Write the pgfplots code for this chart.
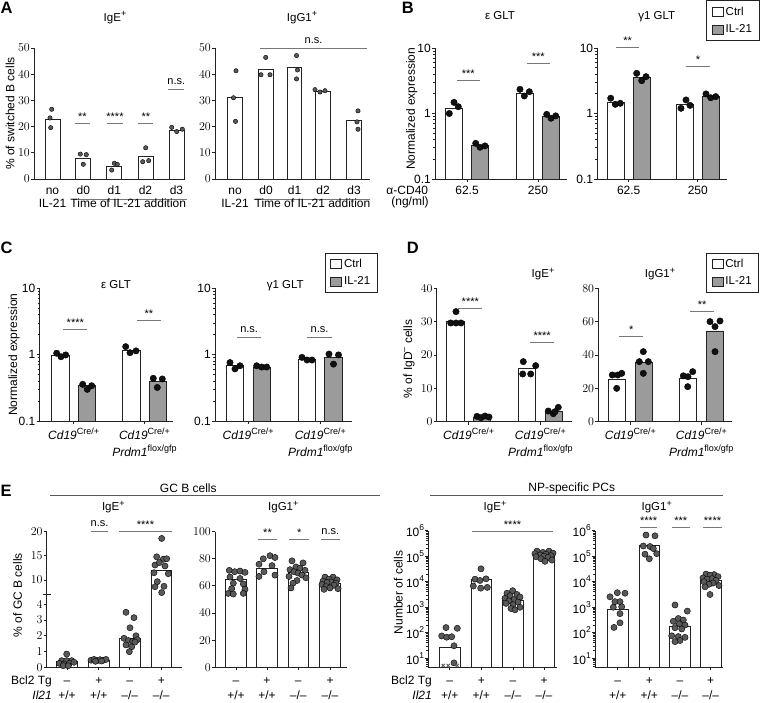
\documentclass[border=0pt]{standalone}
\usepackage{fontspec}
\setmainfont{Liberation Sans}
\usepackage{pgfplots}
\pgfplotsset{compat=1.18}
\definecolor{axc}{HTML}{222222}
\definecolor{barg}{HTML}{9B9B9B}
\definecolor{ptg}{HTML}{595959}
\definecolor{ptk}{HTML}{111111}
\definecolor{sigc}{HTML}{777777}
\newcommand\fa{\fontsize{12}{14}\selectfont}
\newcommand\ft{\fontsize{11.5}{13}\selectfont}
\newcommand\fsg{\fontsize{11}{13}\selectfont}
\newcommand\fl{\fontsize{11.5}{13}\selectfont}
\newcommand\fL{\fontsize{16.5}{19}\selectfont\bfseries}
\newcommand\sps[1]{\raisebox{0.42em}{\fontsize{9}{9}\selectfont #1}}
\newcommand\lsp[1]{\raisebox{0.5em}{\fontsize{8.5}{8.5}\selectfont #1}}
\newcommand\tabT[2][1]{{\renewcommand{\arraystretch}{#1}\begin{tabular}[t]{@{}c@{}}#2\end{tabular}}}
\newcommand\sigA[4]{\draw[sigc,line width=0.9pt] (#1,#3)--(#2,#3); \node[font=\fsg,anchor=base,inner sep=0pt] at ({(#1+#2)/2},{#3-2.8}) {#4};}
\newcommand\sigN[3]{\draw[sigc,line width=0.9pt] (#1,#3)--(#2,#3); \node[font=\fsg,anchor=base,inner sep=0pt] at ({(#1+#2)/2},{#3-5}) {n.s.};}
\pgfplotsset{
  pbase/.style={scale only axis, anchor=south west, axis lines*=left,
    axis line style={-, line width=0.9pt, draw=axc},
    every tick/.style={line width=0.9pt, draw=axc},
    major tick length=3pt, minor tick length=2pt, tick align=outside,
    tick label style={font=\fa, inner sep=1pt, text=black},
    xticklabel style={anchor=base},
    ylabel style={font=\fa},
    clip=false},
  tkB/.style={ymin=0.1, ymax=10, ytick={0.1,1,10}, yticklabels={0.1,1,10},
    minor ytick={0.2,0.3,0.4,0.5,0.6,0.7,0.8,0.9,2,3,4,5,6,7,8,9}},
  tkN/.style={ymin=4.44, ymax=1000000, ytick={10,100,1000,10000,100000,1000000},
    yticklabels={10\lsp{1},10\lsp{2},10\lsp{3},10\lsp{4},10\lsp{5},10\lsp{6}},
    minor ytick={5,6,7,8,9,20,30,40,50,60,70,80,90,200,300,400,500,600,700,800,900,2000,3000,4000,5000,6000,7000,8000,9000,20000,30000,40000,50000,60000,70000,80000,90000,200000,300000,400000,500000,600000,700000,800000,900000}},
  cbar/.style={ybar, bar width=#1, bar shift=0pt, fill=white, draw=axc, line width=0.9pt,
    legend image code/.code={\draw[##1] (0pt,-4.5pt) rectangle (11pt,4.5pt);}},
  gbar/.style={ybar, bar width=#1, bar shift=0pt, fill=barg, draw=axc, line width=0.9pt,
    legend image code/.code={\draw[##1] (0pt,-4.5pt) rectangle (11pt,4.5pt);}},
  pts/.style={only marks, mark=*, mark size=#1, mark options={draw=none, fill=ptg}, forget plot},
  ptk/.style={only marks, mark=*, mark size=#1, mark options={draw=none, fill=ptk}, forget plot},
  xm/.style={only marks, mark=x, mark size=2.3, mark options={draw=ptg, line width=0.9pt}, forget plot},
  lgs/.style 2 args={legend style={at={(#1,#2)}, anchor=north east, draw=axc, line width=0.8pt, font=\fl, inner xsep=5pt, inner ysep=4pt, row sep=4pt}, legend cell align=left},
}
\begin{document}
\begin{tikzpicture}
\path[use as bounding box] (0,0) rectangle (760pt,703pt);
% ---------------- A left
\begin{axis}[pbase, at={(34pt,524pt)}, width=151pt, height=131pt, xmin=34, xmax=185, ymin=0, ymax=50,
  ytick={0,10,20,30,40,50}, xtick={52.5,83.3,114.3,145.5,176.5},
  xticklabels={{\tabT[0.9]{no\\IL-21}},d0,d1,d2,d3}, major x tick style={draw=none}, xticklabel style={yshift=-13pt},
  ylabel={\% of switched B cells}, ylabel style={at={(axis description cs:-0.159,0.5)}, anchor=center}]
\addplot[cbar=15] coordinates {(52.5,22.7) (83.3,8) (114.3,4.7) (145.5,8.5) (176.5,18.5)};
\addplot[pts=2.2] coordinates {(51.7,26.6) (50,23.3) (50.7,19.6) (80.3,9.5) (86.3,9.3) (83.3,5.6) (114.3,6.0) (117.3,5.6) (111.7,3.4) (145.7,11.9) (142.7,6.6) (148.7,7.0) (171.7,19.7) (176.7,18.1) (182.3,19.0)};
\end{axis}
% ---------------- A right
\begin{axis}[pbase, at={(215pt,524pt)}, width=155pt, height=131pt, xmin=215, xmax=370, ymin=0, ymax=50,
  ytick={0,10,20,30,40,50}, xtick={235,266,294.5,323,354},
  xticklabels={{\tabT[0.9]{no\\IL-21}},d0,d1,d2,d3}, major x tick style={draw=none}, xticklabel style={yshift=-13pt}]
\addplot[cbar=14.5] coordinates {(235,31.3) (266,41.7) (294.5,42.5) (323,33.5) (354,22.2)};
\addplot[pts=2.2] coordinates {(236,41.3) (233.5,31) (235.5,22) (265.7,46.4) (261,39.8) (270,39.8) (296.5,47.1) (297.5,41.6) (296.5,38.2) (315,34.1) (320,33.2) (325,33.7) (358,26) (357,21.8) (358,19)};
\end{axis}
% ---------------- B left
\begin{axis}[pbase, ymode=log, log origin=infty, tkB, at={(435pt,524pt)}, width=132pt, height=131pt, xmin=435, xmax=567,
  xtick={467,538}, xticklabels={62.5,250}, xticklabel style={yshift=-13pt},
  ylabel={Normalized expression}, ylabel style={at={(axis description cs:-0.1765,0.536)}, anchor=center}]
\addplot[cbar=17] coordinates {(454,1.2) (525,2.05)};
\addplot[gbar=17] coordinates {(480,0.32) (551,0.9)};
\addplot[ptk=3.2] coordinates {(449.3,1.0) (454,1.48) (458.3,1.27) (520,2.34) (524.3,1.85) (529.3,2.15) (475.7,0.35) (480,0.305) (485,0.32) (546.7,0.97) (551,0.845) (555.7,0.92)};
\end{axis}
% ---------------- B right
\begin{axis}[pbase, ymode=log, log origin=infty, tkB, at={(597.3pt,524pt)}, width=129.4pt, height=131pt, xmin=597.3, xmax=726.7,
  xtick={628.7,697.8}, xticklabels={62.5,250}, xticklabel style={yshift=-13pt}, lgs={1.252}{1.3626}]
\addplot[cbar=17] coordinates {(615.7,1.5) (684.7,1.37)};
\addlegendentry{Ctrl}
\addplot[gbar=17] coordinates {(641.7,3.6) (711,1.82)};
\addlegendentry{IL-21}
\addplot[ptk=3.2] coordinates {(610.7,1.71) (615.3,1.38) (620.3,1.43) (636.7,4.1) (641.7,3.17) (646,3.65) (681,1.2) (686,1.61) (690,1.33) (706,1.99) (710.7,1.74) (715.7,1.81)};
\end{axis}
% ---------------- C left
\begin{axis}[pbase, ymode=log, log origin=infty, tkB, at={(39.5pt,282pt)}, width=133.8pt, height=132.7pt, xmin=39.5, xmax=173.3,
  xtick={73.7,144.5}, xticklabels={{\textit{Cd19}\sps{Cre/+}},{\tabT[1.14]{\textit{Cd19}\sps{Cre/+}\\\textit{Prdm1}\sps{flox/gfp}}}},
  xticklabel style={yshift=-16pt},
  ylabel={Normalized expression}, ylabel style={at={(axis description cs:-0.19,0.5)}, anchor=center}]
\addplot[cbar=17.3] coordinates {(60.3,0.97) (131.3,1.15)};
\addplot[gbar=17.3] coordinates {(87,0.34) (157.8,0.39)};
\addplot[ptk=3.2] coordinates {(56.7,1.05) (61,0.93) (65.7,0.99) (82.7,0.357) (87.3,0.30) (91.7,0.34) (125.7,1.32) (130,1.07) (136,1.14) (153.3,0.44) (157.3,0.32) (162.3,0.43)};
\end{axis}
% ---------------- C right
\begin{axis}[pbase, ymode=log, log origin=infty, tkB, at={(215pt,282pt)}, width=136.7pt, height=132.7pt, xmin=215, xmax=351.7,
  xtick={248.2,320.3}, xticklabels={{\textit{Cd19}\sps{Cre/+}},{\tabT[1.14]{\textit{Cd19}\sps{Cre/+}\\\textit{Prdm1}\sps{flox/gfp}}}},
  xticklabel style={yshift=-16pt}, lgs={1.19}{1.268}]
\addplot[cbar=17.3] coordinates {(234.7,0.68) (307,0.85)};
\addlegendentry{Ctrl}
\addplot[gbar=17.3] coordinates {(261.7,0.64) (333.5,0.92)};
\addlegendentry{IL-21}
\addplot[ptk=3.2] coordinates {(230,0.76) (235,0.61) (240,0.68) (256.7,0.68) (261.7,0.65) (266.7,0.65) (302,0.91) (307,0.83) (312,0.83) (329,1.02) (333.5,0.72) (338.5,0.99)};
\end{axis}
% ---------------- D left
\begin{axis}[pbase, at={(436.7pt,281.3pt)}, width=135pt, height=133.4pt, xmin=436.7, xmax=571.7, ymin=0, ymax=40,
  ytick={0,10,20,30,40}, xtick={468.7,540.4},
  xticklabels={{\textit{Cd19}\sps{Cre/+}},{\tabT[1.14]{\textit{Cd19}\sps{Cre/+}\\\textit{Prdm1}\sps{flox/gfp}}}},
  xticklabel style={yshift=-15.3pt},
  ylabel={\% of IgD\sps{–} cells}, ylabel style={at={(axis description cs:-0.205,0.47)}, anchor=center}]
\addplot[cbar=17.3] coordinates {(455.3,30) (527,16)};
\addplot[gbar=17.3] coordinates {(482.2,1.3) (553.8,3.0)};
\addplot[ptk=3.2] coordinates {(456,33) (450.7,29.6) (456,29.6) (461,29.6) (477,1.6) (481,1.2) (485,1.7) (489,1.4) (523.3,18) (522.7,14.3) (530.7,14.3) (535.7,16.8) (548.3,3.2) (553.3,2.4) (558.3,4.3) (555,3.0)};
\end{axis}
% ---------------- D right
\begin{axis}[pbase, at={(598.3pt,281.3pt)}, width=133.4pt, height=133.4pt, xmin=598.3, xmax=731.7, ymin=0, ymax=80,
  ytick={0,20,40,60,80}, xtick={630.3,701.3},
  xticklabels={{\textit{Cd19}\sps{Cre/+}},{\tabT[1.14]{\textit{Cd19}\sps{Cre/+}\\\textit{Prdm1}\sps{flox/gfp}}}},
  xticklabel style={yshift=-15.3pt}, lgs={1.205}{1.267}]
\addplot[cbar=17.3] coordinates {(617,25.6) (688,26)};
\addlegendentry{Ctrl}
\addplot[gbar=17.3] coordinates {(643.7,35.4) (714.7,54.4)};
\addlegendentry{IL-21}
\addplot[ptk=3.2] coordinates {(612.3,28) (617.7,28) (621.7,29) (616.7,20) (643.3,42) (639.3,36) (648.3,36) (643.3,29) (683.3,27.5) (692.7,30) (688,27) (687.7,21) (710,60) (720,60.4) (715,57) (715,42)};
\end{axis}
% ---------------- E GC IgE lower
\begin{axis}[pbase, clip=true, at={(46.7pt,35.7pt)}, width=135pt, height=73.3pt, xmin=46.7, xmax=181.7, ymin=0, ymax=4.654,
  ytick={0,1,2,3,4}, xtick={67,98.8,129.7,161.3},
  xticklabels={{\tabT[1.07]{–\\+/+}},{\tabT[1.07]{+\\+/+}},{\tabT[1.07]{–\\–/–}},{\tabT[1.07]{+\\–/–}}},
  xticklabel style={yshift=-14.7pt},
  ylabel={\% of GC B cells}, ylabel style={at={(axis description cs:-0.216,0.986)}, anchor=center}]
\addplot[cbar=20.5] coordinates {(67,0.36) (98.8,0.42) (129.7,1.84) (161.3,12)};
\addplot[pts=3.1] coordinates {(66.7,0.84) (61.7,0.42) (66.7,0.42) (71.7,0.42) (59.3,0.25) (64,0.2) (69.3,0.25) (74,0.32) (63.3,0.1) (68.3,0.1) (91,0.45) (94,0.5) (97,0.42) (100,0.48) (103,0.45) (106,0.5) (95.5,0.38) (101.5,0.4) (126,3.49) (134,3.15) (130,2.51) (136,2.0) (124,1.84) (128.3,1.7) (132.7,1.65) (137.3,1.75) (126,1.42) (131.7,1.3) (135,1.6) (129.3,0.99)};
\addplot[xm] coordinates {(61,-0.2) (66,-0.2) (75.5,-0.2)};
\end{axis}
% ---------------- E GC IgE upper
\begin{axis}[pbase, clip=true, at={(46.7pt,109pt)}, width=135pt, height=62.3pt, xmin=46.7, xmax=181.7, ymin=7.1, ymax=20,
  axis x line=none, axis y line*=left, xtick=\empty, ytick={10,15,20}]
\addplot[cbar=20.5] coordinates {(161.3,12)};
\addplot[pts=3.1] coordinates {(161.7,18.6) (156.7,14.8) (163.3,14.3) (166.7,14.4) (155,13.1) (159.3,13.6) (165,12.9) (154,11.5) (168.3,11.3) (157.3,9.65) (155,8.6) (164,8.7) (161.7,7.4)};
\end{axis}
% ---------------- E GC IgG1
\begin{axis}[pbase, at={(215pt,35.7pt)}, width=131.7pt, height=135.6pt, xmin=215, xmax=346.7, ymin=0, ymax=100,
  ytick={0,20,40,60,80,100}, xtick={236,267,298.3,330},
  xticklabels={{\tabT[1.07]{–\\+/+}},{\tabT[1.07]{+\\+/+}},{\tabT[1.07]{–\\–/–}},{\tabT[1.07]{+\\–/–}}},
  xticklabel style={yshift=-14.7pt}]
\addplot[cbar=20.5] coordinates {(236,64.5) (267,73) (298.3,70) (330,62)};
\addplot[pts=3.1] coordinates {(229.3,71.5) (234.7,70.5) (240,71) (245,70) (230,66.5) (240,65.5) (233.3,62) (243.3,61.5) (231.7,58) (245,57.5) (228.3,54.5) (233.3,54) (243.3,54.5) (263.3,80) (270,82.3) (275,81) (259,76) (272,75) (264,70.5) (259,67) (275,68) (292,78.5) (303,77) (296,74) (300,73) (290,72) (305,71.5) (294,70.5) (298,69.5) (302,68) (289,67) (306,66) (297,64) (293,62) (291,58.5) (325,66.5) (333,66.5) (329,65) (337,64.5) (323,63.5) (331,63) (327,62.5) (336,62) (322,61) (334,60.5) (326,59.5) (330,58.5) (338,58) (324,57.5)};
\end{axis}
% ---------------- E NP IgE
\begin{axis}[pbase, ymode=log, log origin=infty, tkN, at={(428.3pt,35.7pt)}, width=128.4pt, height=136.6pt, xmin=428.3, xmax=556.7,
  xtick={449.7,481.3,513,544},
  xticklabels={{\tabT[1.07]{–\\+/+}},{\tabT[1.07]{+\\+/+}},{\tabT[1.07]{–\\–/–}},{\tabT[1.07]{+\\–/–}}},
  xticklabel style={yshift=-14.7pt},
  ylabel={Number of cells}, ylabel style={at={(axis description cs:-0.234,0.548)}, anchor=center}]
\addplot[cbar=20.5] coordinates {(449.7,26) (481.3,12000) (513,1900) (544,110000)};
\addplot[pts=3.1] coordinates {(446,160) (457.3,150) (441.7,75) (446.7,67) (451.7,70) (454,31) (454,6.6) (481,32000) (475,12600) (480,11200) (486,13000) (473.3,6800) (487.3,6000) (480.7,5600) (512.7,4470) (507,3548) (517,3162) (510,2818) (520,2512) (505,2239) (514,1995) (509,1778) (518,1585) (506,1413) (513,1259) (520,1000) (511,891) (515,794) (537,158000) (549,158000) (543,141000) (553,132000) (535,126000) (546,120000) (540,112000) (551,105000) (544,100000) (536,95500) (548,89000) (541,79400) (552,70800) (545,63000)};
\addplot[xm] coordinates {(443.3,5.2) (448.3,5.2) (457.3,5.2)};
\end{axis}
% ---------------- E NP IgG1
\begin{axis}[pbase, ymode=log, log origin=infty, tkN, at={(595pt,35.7pt)}, width=128.3pt, height=136.6pt, xmin=595, xmax=723.3,
  xtick={617.7,649.3,680,710.7},
  xticklabels={{\tabT[1.07]{–\\+/+}},{\tabT[1.07]{+\\+/+}},{\tabT[1.07]{–\\–/–}},{\tabT[1.07]{+\\–/–}}},
  xticklabel style={yshift=-14.7pt}]
\addplot[cbar=20.5] coordinates {(617.7,830) (649.3,275000) (680,183) (710.7,11000)};
\addplot[pts=3.1] coordinates {(617.3,3715) (625,3548) (610,2570) (615,1660) (620,1660) (621.7,1047) (613.3,1000) (620,562) (620,245) (614,162) (646,676000) (655,631000) (643.3,251000) (650,240000) (653.3,200000) (645,120000) (656.7,126000) (649.3,79400) (675,1230) (687.3,708) (678.3,363) (683.3,316) (673.3,282) (679.3,224) (685,200) (675,158) (681.7,141) (671.7,76) (678.3,71) (685,66) (680,50) (675,45) (706,19950) (714,19050) (710,17800) (718,15850) (703,14130) (712,13180) (707,12590) (716,11220) (704,10000) (713,8910) (709,7940) (719,7080) (705,6310) (710,3160)};
\end{axis}
% ---------------- annotations
\begin{scope}[shift={(0pt,703pt)}, x=1pt, y=-1pt]
\node[font=\fL, anchor=base west, inner sep=0pt] at (0.5,13.5) {A};
\node[font=\fL, anchor=base west, inner sep=0pt] at (401.7,13.5) {B};
\node[font=\fL, anchor=base west, inner sep=0pt] at (0.5,253.3) {C};
\node[font=\fL, anchor=base west, inner sep=0pt] at (406.7,253.3) {D};
\node[font=\fL, anchor=base west, inner sep=0pt] at (0.5,496.7) {E};
\begin{scope}[every node/.style={font=\ft, anchor=base, inner sep=0pt}]
\node at (115,21.7) {IgE\sps{+}};
\node at (302,21.7) {IgG1\sps{+}};
\node at (500,20) {ε GLT};
\node at (656.7,20) {γ1 GLT};
\node at (116,288.3) {ε GLT};
\node at (285.3,288.3) {γ1 GLT};
\node at (543,278) {IgE\sps{+}};
\node at (660,278) {IgG1\sps{+}};
\node at (113.3,511) {IgE\sps{+}};
\node at (283.3,511) {IgG1\sps{+}};
\node at (495,511) {IgE\sps{+}};
\node at (656.7,511) {IgG1\sps{+}};
\end{scope}
\begin{scope}[every node/.style={font=\fa, anchor=base, inner sep=0pt}]
\draw[sigc, line width=0.9pt] (73.3,199.5)--(186.7,199.5);
\node at (128.3,207.5) {Time of IL-21 addition};
\draw[sigc, line width=0.9pt] (254,199.5)--(370,199.5);
\node at (312.5,207.5) {Time of IL-21 addition};
\node at (407.3,195) {α-CD40};
\node at (410,205.5) {(ng/ml)};
\node[anchor=base east] at (52,685) {Bcl2 Tg};
\node[anchor=base east, font=\fa\itshape] at (52,700) {Il21};
\node[anchor=base east] at (432,685) {Bcl2 Tg};
\node[anchor=base east, font=\fa\itshape] at (432,700) {Il21};
\node at (188.3,492.5) {GC B cells};
\draw[black!65, line width=0.9pt] (50,495.7)--(380,495.7);
\node at (571.7,492) {NP-specific PCs};
\draw[black!65, line width=0.9pt] (430,495.7)--(723.3,495.7);
\end{scope}
\draw[axc, line width=0.9pt] (42.5,594)--(50.5,594);
% significance
\sigA{75}{90}{123.3}{**} \sigA{106.7}{123.3}{123.3}{****} \sigA{138.3}{153.3}{123.3}{**} \sigN{168.3}{184.3}{89.3}
\sigN{260}{367}{48.3}
\sigA{456.7}{480}{80}{***} \sigA{526.7}{550}{63.3}{***}
\sigA{616}{639.3}{47.7}{**} \sigA{686}{710}{66}{*}
\sigA{63.3}{87.3}{329}{****} \sigA{136.7}{161}{320}{**}
\sigN{237.3}{261}{337.3} \sigN{307.3}{331.7}{337.3}
\sigA{458.3}{482.3}{308.3}{****} \sigA{530}{554.3}{342.3}{****}
\sigA{619}{643.3}{336}{*} \sigA{690}{714.3}{311}{**}
\sigN{90.7}{108.3}{531.7} \sigA{119.3}{171.7}{531.7}{****}
\sigA{258.3}{276.7}{539.3}{**} \sigA{289.3}{309.3}{539.3}{*} \sigN{320.7}{340}{539.3}
\sigA{471.7}{553.3}{531}{****}
\sigA{640}{657.3}{527.7}{****} \sigA{671.7}{690}{527.7}{***} \sigA{703.3}{721.7}{527.7}{****}
\end{scope}
\end{tikzpicture}
\end{document}
